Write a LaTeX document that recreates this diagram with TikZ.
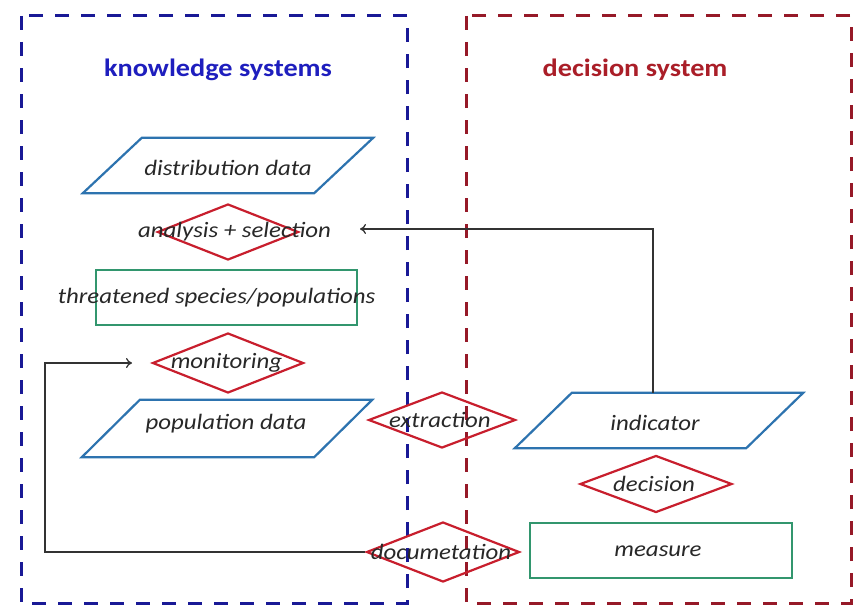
\documentclass[tikz,border=0pt]{standalone}
\usepackage{fontspec}
\setmainfont{Carlito}[FakeStretch=1.13]
\usetikzlibrary{shapes.geometric,arrows.meta}
\definecolor{pblue}{RGB}{45,115,175}
\definecolor{dred}{RGB}{200,30,45}
\definecolor{rgreen}{RGB}{50,150,110}
\definecolor{bdash}{RGB}{25,25,150}
\definecolor{rdash}{RGB}{150,25,40}
\definecolor{tblue}{RGB}{30,30,190}
\definecolor{tred}{RGB}{170,30,40}
\definecolor{txtc}{RGB}{40,40,40}
\tikzset{
  frame/.style={line width=3pt, dash pattern=on 14pt off 12pt},
  parabox/.style={rectangle, inner sep=0pt, minimum height=55pt, minimum width=231pt},
  paraline/.style={draw=pblue, line width=2.2pt, line join=miter},
  dia/.style={draw=dred, line width=2.2pt, diamond, inner sep=0pt},
  rbox/.style={draw=rgreen, line width=2.2pt, rectangle, inner sep=0pt, minimum width=262pt, minimum height=55pt},
  lbl/.style={font=\fontsize{22}{24}\selectfont\itshape, text=txtc, inner sep=0pt},
  ttl/.style={font=\fontsize{25}{28}\selectfont\bfseries, inner sep=0pt},
  arr/.style={draw=black!80, line width=1.3pt, -{To[length=6pt,width=10pt]}}
}
\newcommand\myparagram[2]{%
  \draw[paraline] ([xshift=#2]#1.north west) -- ([xshift=#2]#1.north east)
    -- ([xshift=-#2]#1.south east) -- ([xshift=-#2]#1.south west) -- cycle;}
\begin{document}
\begin{tikzpicture}[x=1pt,y=-1pt]
\useasboundingbox (0,0) rectangle (853,610);
\fill[white] (0,0) rectangle (853,610);
% frames
\draw[frame, draw=bdash] (21,16) rectangle (407,603);
\draw[frame, draw=rdash] (466,16) rectangle (851,603);
\node[ttl, text=tblue] (kt) at (218,70) {knowledge systems};
\node[ttl, text=tred] (dt) at (635,70) {decision system};
% shapes
\node[parabox] (dd) at (228,165.5) {};
\myparagram{dd}{29.5pt}
\node[lbl] (ddt) at (228,168) {distribution data};
\node[dia, minimum width=141pt, minimum height=56pt] (an) at (228,232) {};
\node[lbl] (ant) at (234.5,232) {analysis + selection};
\node[rbox, minimum width=261pt] (th) at (226.5,297.5) {};
\node[lbl] (tht) at (216.5,298) {threatened species/populations};
\node[dia, minimum width=151pt, minimum height=60pt] (mo) at (228,363) {};
\node[lbl] (mot) at (226.5,363) {monitoring};
\node[parabox, minimum height=57pt, minimum width=232pt] (pd) at (227,428.5) {};
\myparagram{pd}{29pt}
\node[lbl] (pdt) at (226,424) {population data};
\node[dia, minimum width=147pt, minimum height=56pt] (ex) at (442,420) {};
\node[lbl] (ext) at (440,420) {extraction};
\node[parabox] (in) at (659,420.5) {};
\myparagram{in}{28.5pt}
\node[lbl] (int) at (655,423) {indicator};
\node[dia, minimum width=152pt, minimum height=57pt] (de) at (656,484) {};
\node[lbl] (det) at (654,484) {decision};
\node[rbox] (me) at (661,550.5) {};
\node[lbl] (met) at (658,551) {measure};
\node[dia, minimum width=153pt, minimum height=60pt] (do) at (443,552) {};
\node[lbl] (dot) at (441,552) {documetation};
% connectors
\coordinate (aend) at (360,229);
\coordinate (mend) at (132,363);
\coordinate (c1) at (653,229);
\coordinate (c2) at (45,552);
\coordinate (c3) at (45,363);
\draw[arr] (in.north -| c1) -- (c1) -- (aend);
\draw[arr] (do.west) -- (c2) -- (c3) -- (mend);
\end{tikzpicture}
\end{document}
